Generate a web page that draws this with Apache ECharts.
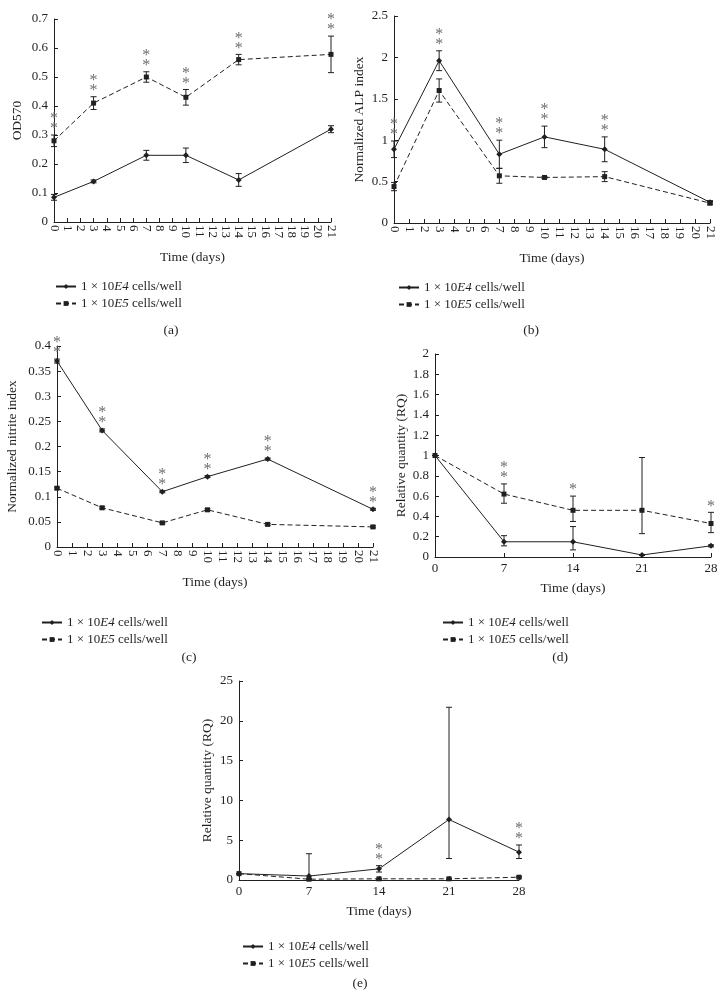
<!DOCTYPE html>
<html>
<head>
<meta charset="utf-8">
<script src="https://cdn.jsdelivr.net/npm/echarts@6/dist/echarts.min.js"></script>
<style>html,body{margin:0;padding:0;background:#fff;}#c{width:726px;height:1008px;}</style>
</head>
<body>
<div id="c"></div>
<script>
// ---------- data ----------
const S4 = '1 × 10E4 cells/well';
const S5 = '1 × 10E5 cells/well';

// (a) OD570
const daysA = [0, 3, 7, 10, 14, 21];
const aE4 = [0.085, 0.14, 0.23, 0.23, 0.145, 0.32];
const aE4err = [0.01, 0.005, 0.017, 0.025, 0.022, 0.012];
const aE5 = [0.28, 0.41, 0.50, 0.43, 0.56, 0.578];
const aE5err = [0.02, 0.022, 0.018, 0.027, 0.018, 0.063];
const aStars = [2, 2, 2, 2, 2, 2];

// (b) Normalized ALP index
const daysB = [0, 3, 7, 10, 14, 21];
const bE4 = [0.89, 1.96, 0.83, 1.04, 0.89, 0.25];
const bE4err = [0.1, 0.12, 0.17, 0.13, 0.15, 0.02];
const bE5 = [0.44, 1.6, 0.57, 0.55, 0.56, 0.24];
const bE5err = [0.05, 0.14, 0.09, 0.01, 0.06, 0.02];
const bStars = [2, 2, 2, 2, 2, 0];

// (c) Normalized nitrite index
const daysC = [0, 3, 7, 10, 14, 21];
const cE4 = [0.37, 0.232, 0.11, 0.14, 0.175, 0.075];
const cE4err = [0.004, 0.003, 0.002, 0.002, 0.002, 0.002];
const cE5 = [0.117, 0.078, 0.048, 0.074, 0.045, 0.04];
const cE5err = [0.002, 0.002, 0.002, 0.002, 0.002, 0.002];
const cStars = [2, 2, 2, 2, 2, 2];

// (d) Relative quantity (RQ)
const daysD = [0, 7, 14, 21, 28];
const dE4 = [1, 0.15, 0.15, 0.02, 0.11];
const dE4lo = [1, 0.11, 0.07, 0.015, 0.10];
const dE4hi = [1, 0.21, 0.30, 0.025, 0.12];
const dE5 = [1, 0.62, 0.46, 0.46, 0.33];
const dE5lo = [1, 0.53, 0.35, 0.23, 0.24];
const dE5hi = [1, 0.72, 0.60, 0.98, 0.44];
const dStars = [0, 2, 1, 0, 1];

// (e) Relative quantity (RQ)
const daysE = [0, 7, 14, 21, 28];
const eE4 = [0.8, 0.5, 1.4, 7.6, 3.5];
const eE4lo = [0.8, 0, 1.0, 2.7, 2.7];
const eE4hi = [0.8, 3.3, 1.8, 21.7, 4.4];
const eE5 = [0.8, 0.1, 0.15, 0.15, 0.35];
const eE5lo = [0.8, 0.05, 0.08, 0.08, 0.25];
const eE5hi = [0.8, 0.15, 0.22, 0.22, 0.45];
const eStars = [0, 0, 2, 0, 2];

// ---------- helpers ----------
const FONT = 'Liberation Serif';
const TXT = '#231f20';
function sym(v, e) { return { lo: v.map((x, i) => x - e[i]), hi: v.map((x, i) => x + e[i]) }; }

const panels = [
  { days: daysA, s4: aE4, s5: aE5, e4: sym(aE4, aE4err), e5: sym(aE5, aE5err), stars: aStars,
    grid: { left: 54, top: 19, width: 277, height: 203 }, xmax: 21, xint: 1, rot: true,
    ymax: 0.7, yint: 0.1, yname: 'OD570', ygap: 30, xgap: 28,
    legend: { left: 50, top: 275 }, tag: '(a)', tagPos: [171, 330] },
  { days: daysB, s4: bE4, s5: bE5, e4: sym(bE4, bE4err), e5: sym(bE5, bE5err), stars: bStars,
    grid: { left: 394, top: 16, width: 316, height: 207 }, xmax: 21, xint: 1, rot: true,
    ymax: 2.5, yint: 0.5, yname: 'Normalized ALP index', ygap: 28, xgap: 28,
    legend: { left: 393, top: 276 }, tag: '(b)', tagPos: [531, 330] },
  { days: daysC, s4: cE4, s5: cE5, e4: sym(cE4, cE4err), e5: sym(cE5, cE5err), stars: cStars,
    grid: { left: 57, top: 346, width: 316, height: 201 }, xmax: 21, xint: 1, rot: true,
    ymax: 0.4, yint: 0.05, yname: 'Normalized nitrite index', ygap: 38, xgap: 28,
    legend: { left: 36, top: 611 }, tag: '(c)', tagPos: [189, 657] },
  { days: daysD, s4: dE4, s5: dE5, e4: { lo: dE4lo, hi: dE4hi }, e5: { lo: dE5lo, hi: dE5hi }, stars: dStars,
    grid: { left: 435, top: 354, width: 276, height: 203 }, xmax: 28, xint: 7, rot: false,
    ymax: 2, yint: 0.2, yname: 'Relative quantity (RQ)', ygap: 27, xgap: 24,
    legend: { left: 437, top: 611 }, tag: '(d)', tagPos: [560, 657] },
  { days: daysE, s4: eE4, s5: eE5, e4: { lo: eE4lo, hi: eE4hi }, e5: { lo: eE5lo, hi: eE5hi }, stars: eStars,
    grid: { left: 239, top: 681, width: 280, height: 199 }, xmax: 28, xint: 7, rot: false,
    ymax: 25, yint: 5, yname: 'Relative quantity (RQ)', ygap: 25, xgap: 24,
    legend: { left: 237, top: 935 }, tag: '(e)', tagPos: [360, 983] }
];

const grids = [], xAxes = [], yAxes = [], series = [], legends = [], graphics = [];

function errRender(params, api) {
  const x = api.value(0);
  const p1 = api.coord([x, api.value(1)]);
  const p2 = api.coord([x, api.value(2)]);
  const w = 3;
  const st = { stroke: '#231f20', lineWidth: 1 };
  return { type: 'group', children: [
    { type: 'line', shape: { x1: p1[0], y1: p1[1], x2: p2[0], y2: p2[1] }, style: st },
    { type: 'line', shape: { x1: p1[0] - w, y1: p1[1], x2: p1[0] + w, y2: p1[1] }, style: st },
    { type: 'line', shape: { x1: p2[0] - w, y1: p2[1], x2: p2[0] + w, y2: p2[1] }, style: st }
  ]};
}
function starRender(params, api) {
  const n = api.value(2);
  if (!n) return null;
  const p = api.coord([api.value(0), api.value(1)]);
  const arr = [];
  for (let i = 0; i < n; i++) arr.push('*');
  return { type: 'text', style: { text: arr.join('\n'), x: p[0], y: p[1] - 1, align: 'center', verticalAlign: 'bottom',
    font: '16px "' + FONT + '"', fill: '#6d6e71', lineHeight: 10 } };
}

panels.forEach((p, k) => {
  grids.push(Object.assign({ containLabel: false }, p.grid));
  xAxes.push({
    type: 'value', gridIndex: k, min: 0, max: p.xmax, interval: p.xint,
    name: 'Time (days)', nameLocation: 'middle', nameGap: p.xgap,
    nameTextStyle: { fontFamily: FONT, fontSize: 13.5, color: TXT },
    axisLine: { lineStyle: { color: '#231f20', width: 1 } },
    axisTick: { inside: true, length: 4, lineStyle: { color: '#231f20' } },
    axisLabel: { rotate: p.rot ? -90 : 0, margin: p.rot ? 3 : 5, fontFamily: FONT, fontSize: 13, color: TXT, showMaxLabel: true, showMinLabel: true },
    splitLine: { show: false }
  });
  yAxes.push({
    type: 'value', gridIndex: k, min: 0, max: p.ymax, interval: p.yint,
    name: p.yname, nameLocation: 'middle', nameGap: p.ygap,
    nameTextStyle: { fontFamily: FONT, fontSize: 13.5, color: TXT },
    axisLine: { show: true, lineStyle: { color: '#231f20', width: 1 } },
    axisTick: { show: true, inside: true, length: 4, lineStyle: { color: '#231f20' } },
    axisLabel: { margin: 6, fontFamily: FONT, fontSize: 13, color: TXT },
    splitLine: { show: false }
  });
  const e4data = p.days.map((d, i) => [d, p.e4.lo[i], p.e4.hi[i]]);
  const e5data = p.days.map((d, i) => [d, p.e5.lo[i], p.e5.hi[i]]);
  series.push({ type: 'custom', name: 'err4_' + k, xAxisIndex: k, yAxisIndex: k, renderItem: errRender, data: e4data, silent: true, z: 3 });
  series.push({ type: 'custom', name: 'err5_' + k, xAxisIndex: k, yAxisIndex: k, renderItem: errRender, data: e5data, silent: true, z: 3 });
  series.push({
    type: 'line', name: S4, xAxisIndex: k, yAxisIndex: k,
    data: p.days.map((d, i) => [d, p.s4[i]]),
    symbol: 'diamond', symbolSize: 6, showAllSymbol: true,
    lineStyle: { color: '#231f20', width: 1, type: 'solid' },
    itemStyle: { color: '#231f20' }, z: 4, animation: false
  });
  series.push({
    type: 'line', name: S5, xAxisIndex: k, yAxisIndex: k,
    data: p.days.map((d, i) => [d, p.s5[i]]),
    symbol: 'rect', symbolSize: 5, showAllSymbol: true,
    lineStyle: { color: '#231f20', width: 1, type: [5, 3] },
    itemStyle: { color: '#231f20' }, z: 4, animation: false
  });
  const starData = p.days.map((d, i) => [d, Math.max(p.e4.hi[i], p.e5.hi[i]), p.stars[i]]);
  series.push({ type: 'custom', name: 'stars_' + k, xAxisIndex: k, yAxisIndex: k, renderItem: starRender, data: starData, silent: true, clip: false, z: 5 });
  legends.push({
    left: p.legend.left, top: p.legend.top, orient: 'vertical', itemGap: 4, itemWidth: 20, itemHeight: 6,
    data: [S4, S5], selectedMode: false,
    formatter: n => n === S4 ? '1 × 10{i|E4} cells/well' : '1 × 10{i|E5} cells/well',
    textStyle: { fontFamily: FONT, fontSize: 13, color: TXT,
      rich: { i: { fontStyle: 'italic', fontFamily: FONT, fontSize: 13, color: TXT } } }
  });
  graphics.push({ type: 'text', x: p.tagPos[0], y: p.tagPos[1],
    style: { text: p.tag, align: 'center', verticalAlign: 'middle', font: '13.5px "' + FONT + '"', fill: TXT } });
});

const chart = echarts.init(document.getElementById('c'), null, { renderer: 'canvas' });
chart.setOption({
  animation: false,
  backgroundColor: '#ffffff',
  grid: grids, xAxis: xAxes, yAxis: yAxes, series: series, legend: legends,
  graphic: graphics
});
</script>
</body>
</html>
